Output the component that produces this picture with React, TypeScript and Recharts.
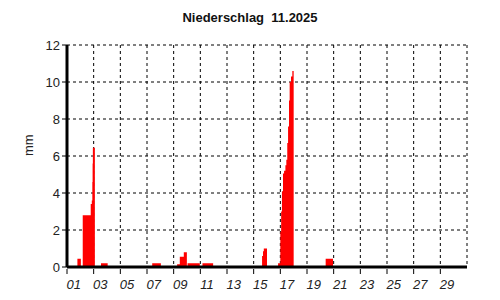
import React from 'react';
import { AreaChart, Area, XAxis, YAxis, CartesianGrid } from 'recharts';

// Niederschlag November 2025: step points [day offset since 01.11. 00:00, mm]
const rainSteps: [number, number][] = [
    [0, 0],
    [0.78, 0.45], [1.04, 0],
    [1.18, 2.8], [1.78, 3.4], [1.86, 3.6], [1.9, 4.6], [1.92, 5.6], [1.94, 6.45], [2.09, 0],
    [2.55, 0.2], [3.05, 0],
    [6.39, 0.2], [7.04, 0],
    [8.26, 0.15], [8.46, 0.55], [8.76, 0.8], [8.99, 0],
    [9.04, 0.2], [9.96, 0],
    [10.16, 0.2], [10.96, 0],
    [14.63, 0.6], [14.7, 0.85], [14.76, 1.0], [15.0, 0],
    [15.83, 0.2], [16.0, 1.9], [16.06, 3.0], [16.12, 4.1], [16.2, 5.05], [16.28, 5.2],
    [16.38, 5.5], [16.45, 5.8], [16.52, 6.7], [16.58, 7.6], [16.65, 9.0], [16.7, 10.0],
    [16.8, 10.3], [16.9, 10.6], [17.0, 0],
    [19.4, 0.45], [19.95, 0],
    [30, 0],
];

const xTickDays = [0, 2, 4, 6, 8, 10, 12, 14, 16, 18, 20, 22, 24, 26, 28];
const xLabels = ['01', '03', '05', '07', '09', '11', '13', '15', '17', '19', '21', '23', '25', '27', '29'];
const yTicks = [0, 2, 4, 6, 8, 10, 12];

const data = rainSteps.map(([t, v]) => ({ t, v }));

const W = 500;
const H = 300;
const M = { top: 45, right: 33, left: 0, bottom: 0 };
const Y_AXIS_W = 67;
const X_AXIS_H = 33;
const dayPx = (W - M.left - M.right - Y_AXIS_W) / 30;

const DayTick = (props: any) => {
    const { x, y, index } = props;
    return (
        <g>
            <line x1={x} y1={y - 6} x2={x} y2={y - 1} stroke="#000" strokeWidth={1} />
            <text
                x={x + dayPx / 2}
                y={y + 14}
                textAnchor="middle"
                fontSize={13}
                fontStyle="italic"
                fill="#222"
            >
                {xLabels[index] ?? ''}
            </text>
        </g>
    );
};

const App: React.FC = () => {
    return (
        <div style={{ position: 'absolute', left: 0, top: 0, width: W, height: H, background: '#fff', fontFamily: '"Liberation Sans", Arial, sans-serif' }}>
            <AreaChart width={W} height={H} data={data} margin={M}>
                <text x={250} y={22} textAnchor="middle" fontSize={13} fontWeight="bold" fill="#111" style={{ whiteSpace: 'pre' }}>
                    {'Niederschlag\u00A0\u00A011.2025'}
                </text>
                <CartesianGrid stroke="#000" strokeDasharray="3 3" strokeWidth={1} />
                <XAxis
                    dataKey="t"
                    type="number"
                    domain={[0, 30]}
                    ticks={xTickDays}
                    interval={0}
                    height={X_AXIS_H}
                    axisLine={{ stroke: '#000', strokeWidth: 3 }}
                    tickLine={false}
                    tick={<DayTick />}
                />
                <YAxis
                    type="number"
                    domain={[0, 12]}
                    ticks={yTicks}
                    interval={0}
                    width={Y_AXIS_W}
                    axisLine={{ stroke: '#000', strokeWidth: 3 }}
                    tickLine={{ stroke: '#000' }}
                    tickSize={5}
                    tick={{ fontSize: 13, fill: '#222' }}
                    label={{ value: 'mm', angle: -90, position: 'insideLeft', offset: 28, fontSize: 13, fill: '#222' }}
                />
                <Area
                    type="stepAfter"
                    dataKey="v"
                    stroke="none"
                    fill="#ff0000"
                    fillOpacity={1}
                    isAnimationActive={false}
                    dot={false}
                    activeDot={false}
                />
            </AreaChart>
        </div>
    );
};

export default App;
